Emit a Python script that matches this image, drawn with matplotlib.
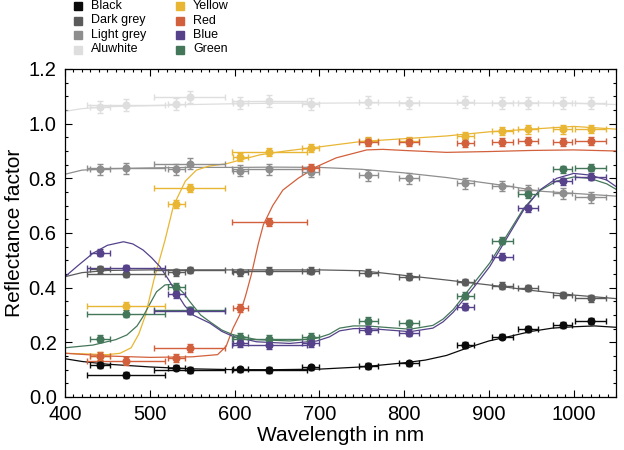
import numpy as np
import matplotlib.pyplot as plt
from matplotlib.lines import Line2D

plt.rcParams['font.family'] = ['Liberation Sans', 'DejaVu Sans']

# camera bands (nm) and half bandwidths
wl_pts = [441, 472, 531, 547, 607, 641, 690, 758, 806, 872, 916, 946, 987, 1020]
xerr_pts = [12, 46, 10, 42, 9, 44, 10, 11, 12, 10, 12, 12, 11, 18]

# measured points per sample
black_pts = [0.117, 0.080, 0.107, 0.099, 0.101, 0.099, 0.108, 0.113, 0.123, 0.190, 0.221, 0.248, 0.263, 0.278]
dgrey_pts = [0.467, 0.451, 0.456, 0.465, 0.456, 0.462, 0.462, 0.455, 0.440, 0.420, 0.407, 0.398, 0.373, 0.361]
lgrey_pts = [0.834, 0.837, 0.834, 0.853, 0.827, 0.833, 0.824, 0.812, 0.800, 0.782, 0.772, 0.757, 0.745, 0.731]
alu_pts = [1.062, 1.068, 1.072, 1.099, 1.077, 1.084, 1.072, 1.078, 1.075, 1.078, 1.075, 1.075, 1.077, 1.075]
yel_pts = [0.150, 0.333, 0.706, 0.764, 0.877, 0.895, 0.910, 0.937, 0.937, 0.955, 0.973, 0.979, 0.979, 0.980]
red_pts = [0.151, 0.133, 0.144, 0.178, 0.325, 0.639, 0.837, 0.932, 0.932, 0.928, 0.934, 0.938, 0.934, 0.937]
blue_pts = [0.528, 0.471, 0.376, 0.316, 0.196, 0.190, 0.196, 0.245, 0.235, 0.330, 0.513, 0.690, 0.790, 0.806]
green_pts = [0.213, 0.304, 0.404, 0.318, 0.221, 0.213, 0.221, 0.279, 0.270, 0.371, 0.571, 0.742, 0.833, 0.839]

# spectra
black_wl = [400, 420, 450, 500, 550, 600, 650, 700, 750, 800, 825, 850, 875, 900, 925, 950, 975, 1000, 1025, 1050]
black_line = [0.14, 0.13, 0.12, 0.11, 0.103, 0.10, 0.10, 0.102, 0.11, 0.125, 0.135, 0.152, 0.18, 0.205, 0.222, 0.24, 0.252, 0.257, 0.26, 0.255]

dgrey_wl = [400, 420, 450, 500, 550, 600, 650, 700, 750, 800, 850, 900, 950, 1000, 1050]
dgrey_line = [0.44, 0.455, 0.463, 0.465, 0.465, 0.465, 0.465, 0.465, 0.462, 0.445, 0.428, 0.41, 0.39, 0.373, 0.36]

lgrey_wl = [400, 420, 450, 500, 550, 600, 650, 700, 750, 800, 850, 880, 920, 960, 1000, 1050]
lgrey_line = [0.815, 0.83, 0.835, 0.838, 0.840, 0.840, 0.841, 0.840, 0.833, 0.82, 0.803, 0.79, 0.773, 0.753, 0.745, 0.735]

alu_wl = [400, 420, 450, 500, 550, 600, 650, 700, 750, 800, 850, 900, 950, 1000, 1050]
alu_line = [1.045, 1.055, 1.062, 1.066, 1.07, 1.073, 1.075, 1.075, 1.076, 1.076, 1.075, 1.075, 1.076, 1.075, 1.07]

yel_wl = [400, 450, 465, 478, 487, 495, 505, 518, 528, 542, 555, 570, 590, 610, 630, 660, 700, 750, 800, 850, 900, 950, 1000, 1050]
yel_line = [0.16, 0.155, 0.16, 0.18, 0.23, 0.30, 0.43, 0.574, 0.70, 0.79, 0.83, 0.845, 0.853, 0.87, 0.886, 0.90, 0.915, 0.935, 0.945, 0.955, 0.97, 0.98, 0.99, 0.98]

red_wl = [400, 450, 500, 550, 580, 590, 598, 606, 613, 620, 628, 634, 645, 657, 675, 697, 720, 756, 775, 800, 850, 900, 950, 1000, 1050]
red_line = [0.16, 0.15, 0.145, 0.147, 0.155, 0.185, 0.25, 0.30, 0.37, 0.45, 0.56, 0.63, 0.70, 0.757, 0.80, 0.843, 0.875, 0.904, 0.906, 0.902, 0.895, 0.898, 0.902, 0.904, 0.90]

blue_wl = [400, 415, 433, 450, 469, 480, 492, 502, 512, 522, 532, 541, 551, 561, 571, 585, 598, 626, 665, 697, 712, 724, 740, 756, 807, 834, 846, 858, 882, 901, 921, 941, 960, 980, 1000, 1019, 1039, 1050]
blue_line = [0.44, 0.48, 0.526, 0.555, 0.568, 0.56, 0.538, 0.51, 0.477, 0.43, 0.379, 0.335, 0.30, 0.285, 0.27, 0.24, 0.222, 0.202, 0.196, 0.205, 0.22, 0.242, 0.25, 0.251, 0.239, 0.252, 0.275, 0.31, 0.40, 0.477, 0.58, 0.684, 0.757, 0.80, 0.818, 0.812, 0.794, 0.77]

green_wl = [400, 433, 460, 473, 485, 492, 500, 508, 518, 525, 532, 540, 547, 560, 571, 585, 598, 626, 665, 697, 712, 724, 740, 756, 807, 834, 846, 858, 882, 901, 921, 941, 960, 980, 1000, 1019, 1039, 1050]
green_line = [0.18, 0.19, 0.21, 0.227, 0.26, 0.294, 0.34, 0.385, 0.41, 0.412, 0.404, 0.38, 0.35, 0.30, 0.275, 0.245, 0.228, 0.21, 0.205, 0.215, 0.23, 0.252, 0.26, 0.26, 0.248, 0.262, 0.285, 0.32, 0.415, 0.49, 0.59, 0.69, 0.755, 0.79, 0.805, 0.80, 0.78, 0.76]

names = ['Black', 'Dark grey', 'Light grey', 'Aluwhite', 'Yellow', 'Red', 'Blue', 'Green']
colors = ['#0a0a0a', '#5b5b5b', '#8e8e8e', '#dedede', '#e9b634', '#d2603c', '#55428a', '#44775a']
yerrs = [0.010, 0.012, 0.02, 0.022, 0.015, 0.015, 0.013, 0.013]

lines = [(alu_wl, alu_line), (lgrey_wl, lgrey_line), (dgrey_wl, dgrey_line), (yel_wl, yel_line),
         (red_wl, red_line), (green_wl, green_line), (blue_wl, blue_line), (black_wl, black_line)]
pts = [alu_pts, lgrey_pts, dgrey_pts, yel_pts, red_pts, green_pts, blue_pts, black_pts]
order = [3, 2, 1, 4, 5, 7, 6, 0]

fig = plt.figure(figsize=(6.24, 4.5), dpi=100)
ax = fig.add_axes([65/624, 53/450, 551/624, 328/450])

for (lx, ly), p, k in zip(lines, pts, order):
    c = colors[k]
    ax.plot(lx, ly, color=c, lw=0.9, zorder=2)
    ax.errorbar(wl_pts, p, xerr=xerr_pts, yerr=yerrs[k], fmt='o', ms=4.8, color=c,
                ecolor=c, elinewidth=1.0, capsize=2.5, capthick=1.0, zorder=3)

ax.set_xlim(400, 1050)
ax.set_ylim(0, 1.2)
ax.set_xticks([400, 500, 600, 700, 800, 900, 1000])
ax.set_yticks(np.arange(0, 1.21, 0.2))
ax.set_yticklabels(['0.0', '0.2', '0.4', '0.6', '0.8', '1.0', '1.2'])
ax.set_xticks(np.arange(400, 1051, 10), minor=True)
ax.set_yticks(np.arange(0, 1.21, 0.05), minor=True)
ax.tick_params(which='both', direction='in', top=True, right=True, labelsize=14.5, width=0.8)
ax.tick_params(which='major', length=5, pad=6)
ax.tick_params(which='minor', length=2.5)
for s in ax.spines.values():
    s.set_linewidth(0.9)
ax.set_xlabel('Wavelength in nm', fontsize=15, labelpad=1)
ax.set_ylabel('Reflectance factor', fontsize=15, labelpad=3)

# legend above the axes
for i, (name, c) in enumerate(zip(names, colors)):
    col, row = divmod(i, 4)
    x0 = 78/624 + col*102/624
    y0 = 1 - (6 + row*14.5)/450
    fig.add_artist(Line2D([x0], [y0], marker='s', ms=6, color=c, lw=0, transform=fig.transFigure))
    fig.text(x0 + 13/624, y0, name, va='center', ha='left', fontsize=9)

plt.savefig('out.png', dpi=100)
